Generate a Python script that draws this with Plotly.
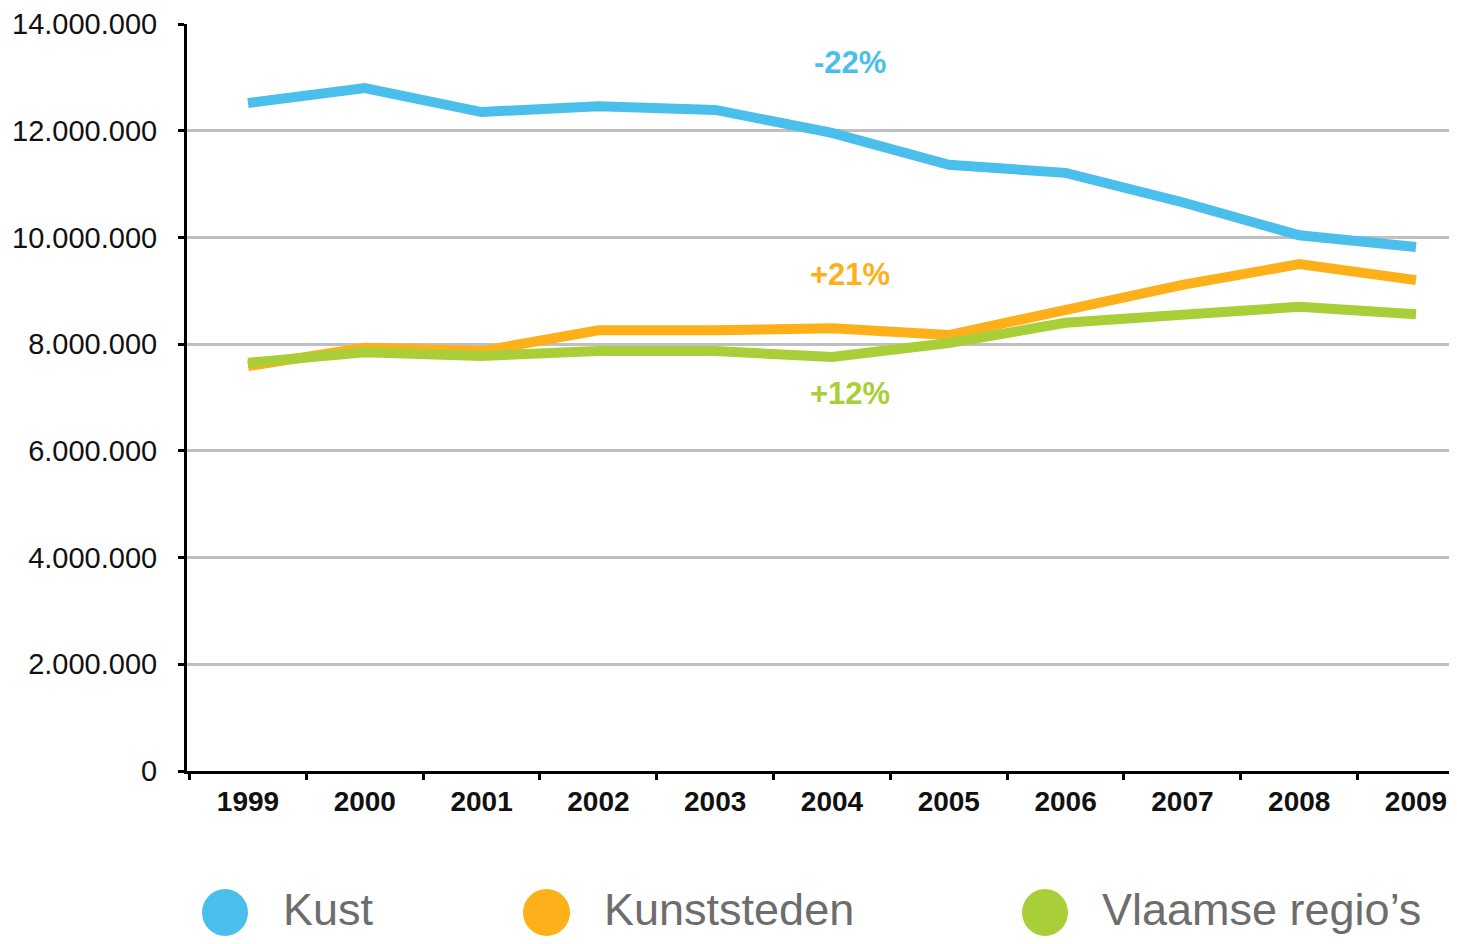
import plotly.graph_objects as go

years = ["1999", "2000", "2001", "2002", "2003", "2004", "2005", "2006", "2007", "2008", "2009"]
kust = [12520000, 12800000, 12350000, 12460000, 12390000, 11960000, 11360000, 11210000, 10660000, 10040000, 9820000]
kunststeden = [7590000, 7930000, 7870000, 8260000, 8260000, 8300000, 8170000, 8640000, 9110000, 9500000, 9200000]
vlaamse = [7650000, 7850000, 7780000, 7870000, 7870000, 7760000, 8020000, 8400000, 8550000, 8700000, 8560000]

series_names = ["Kust", "Kunststeden", "Vlaamse regio’s"]
series_colors = ["#4BBFEC", "#FDB01A", "#A9CF38"]
changes = ["-22%", "+21%", "+12%"]
change_y = [13270000, 9300000, 7080000]

fig = go.Figure()
for name, vals, col in zip(series_names, [kust, kunststeden, vlaamse], series_colors):
    fig.add_trace(go.Scatter(x=years, y=vals, mode="lines", name=name,
                             line=dict(color=col, width=10), showlegend=False))

for txt, yv, col in zip(changes, change_y, series_colors):
    fig.add_annotation(x=5.15, y=yv, xref="x", yref="y", text=f"<b>{txt}</b>",
                       showarrow=False, font=dict(family="Liberation Sans", size=31, color=col))

# manual legend (circles + labels) below plot; positions given in window pixels
W, H, L, T = 1270, 747, 187, 24
def px(x):
    return (x - L) / W
def py(y):
    return (T + H - y) / H
legend_circles = [(202, 248), (523, 570), (1022, 1068)]
legend_text_x = [281, 602, 1100]
for (x0, x1), tx, name, col in zip(legend_circles, legend_text_x, series_names, series_colors):
    fig.add_shape(type="circle", xref="paper", yref="paper",
                  x0=px(x0), x1=px(x1), y0=py(936), y1=py(889),
                  fillcolor=col, line=dict(width=0))
    fig.add_annotation(x=px(tx), y=py(909), xref="paper", yref="paper", text=name,
                       showarrow=False, xanchor="left", yanchor="middle",
                       font=dict(family="Liberation Sans", size=45, color="#6d6d6d"))

# page body has an 8px margin: shrink the figure and margins accordingly
fig.update_layout(
    width=1449, height=928,
    margin=dict(l=179, r=0, t=16, b=165),
    paper_bgcolor="white", plot_bgcolor="white",
    separators=",.",
    xaxis=dict(type="category", range=[-0.522, 10.351], showgrid=False,
               showline=True, linecolor="black", linewidth=3,
               ticks="outside", tickson="boundaries", ticklen=6, tickwidth=3, tickcolor="black",
               tickfont=dict(family="Liberation Sans", size=28, color="#111111", weight="bold"),
               ticklabelstandoff=3),
    yaxis=dict(range=[0, 14000000], dtick=2000000, tickformat=",d",
               showgrid=True, gridcolor="#c0c0c0", gridwidth=3,
               showline=True, linecolor="black", linewidth=3,
               ticks="outside", ticklen=6, tickwidth=3, tickcolor="black",
               tickfont=dict(family="Liberation Sans", size=29, color="#111111"),
               ticklabelstandoff=15, zeroline=False),
)

fig.write_html("out.html")
